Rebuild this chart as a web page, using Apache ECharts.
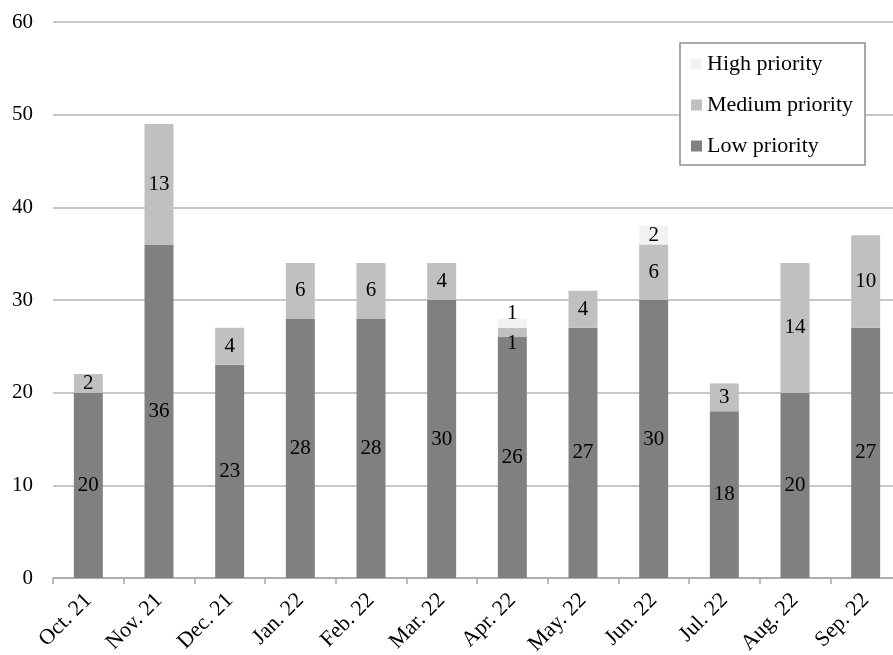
<!DOCTYPE html>
<html>
<head>
<meta charset="utf-8">
<script src="https://cdn.jsdelivr.net/npm/echarts@6/dist/echarts.min.js"></script>
<style>
  html, body { margin: 0; padding: 0; background: #fff; overflow: hidden; }
  #chart { width: 910px; height: 655px; }
</style>
</head>
<body>
<div id="chart"></div>
<script>
// Monthly ticket counts by priority
const months = ['Oct. 21', 'Nov. 21', 'Dec. 21', 'Jan. 22', 'Feb. 22', 'Mar. 22',
                'Apr. 22', 'May. 22', 'Jun. 22', 'Jul. 22', 'Aug. 22', 'Sep. 22'];
const lowPriority    = [20, 36, 23, 28, 28, 30, 26, 27, 30, 18, 20, 27];
const mediumPriority = [2, 13, 4, 6, 6, 4, 1, 4, 6, 3, 14, 10];
const highPriority   = [null, null, null, null, null, null, 1, null, 2, null, null, null];
const yTicks = [0, 10, 20, 30, 40, 50, 60];

const FONT = '"Liberation Serif", "Times New Roman", serif';

const baseLabel = {
  show: true,
  position: 'inside',
  color: '#000',
  fontFamily: FONT,
  fontSize: 21,
  formatter: p => (p.value == null ? '' : String(p.value))
};

// Segments too thin to hold their number get the label moved outside:
// the top segment puts it above the bar, a middle one just below itself.
function withThinLabels(values, thinPlacement) {
  return values.map(v => {
    if (v == null || v >= 1.5) return v;
    return { value: v, label: thinPlacement };
  });
}

const chart = echarts.init(document.getElementById('chart'), null, { renderer: 'canvas' });
chart.setOption({
  animation: false,
  backgroundColor: '#fff',
  // the last category runs a little past the right edge of the visible page
  grid: { left: 53, right: 9, top: 22, bottom: 77, containLabel: false, outerBoundsMode: 'none' },
  legend: {
    orient: 'vertical',
    left: 680,
    top: 43,
    padding: [10, 12, 8, 11],
    itemGap: 19,
    itemWidth: 11,
    itemHeight: 11,
    backgroundColor: '#fff',
    borderColor: '#8c8c8c',
    borderWidth: 1.5,
    icon: 'rect',
    textStyle: { fontFamily: FONT, fontSize: 22, color: '#000' },
    data: ['High priority', 'Medium priority', 'Low priority']
  },
  xAxis: {
    type: 'category',
    data: months,
    axisLine: { lineStyle: { color: '#a6a6a6', width: 1.5 } },
    axisTick: { show: true, length: 6, lineStyle: { color: '#a6a6a6', width: 1.5 } },
    axisLabel: {
      interval: 0,
      rotate: 45,
      margin: 19,
      color: '#000',
      fontFamily: FONT,
      fontSize: 22
    }
  },
  yAxis: {
    type: 'value',
    min: yTicks[0],
    max: yTicks[yTicks.length - 1],
    interval: 10,
    axisLine: { show: false },
    axisTick: { show: false },
    splitLine: { lineStyle: { color: '#b4b4b4', width: 1.5 } },
    axisLabel: { color: '#000', fontFamily: FONT, fontSize: 21, margin: 20 }
  },
  series: [
    {
      name: 'Low priority',
      type: 'bar',
      stack: 'total',
      barWidth: '41%',
      itemStyle: { color: '#808080' },
      label: baseLabel,
      data: lowPriority
    },
    {
      name: 'Medium priority',
      type: 'bar',
      stack: 'total',
      itemStyle: { color: '#c0c0c0' },
      label: baseLabel,
      data: withThinLabels(mediumPriority, { position: 'bottom', distance: -4 })
    },
    {
      name: 'High priority',
      type: 'bar',
      stack: 'total',
      itemStyle: { color: '#f2f2f2' },
      label: baseLabel,
      data: withThinLabels(highPriority, { position: 'top', distance: -5 })
    }
  ]
});
</script>
</body>
</html>
